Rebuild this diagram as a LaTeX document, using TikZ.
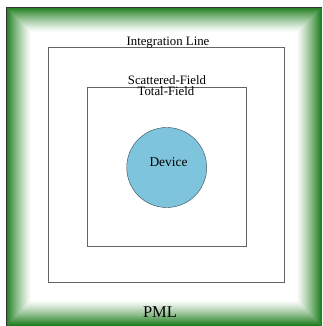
\documentclass[tikz,border=0pt]{standalone}
\usepackage{fontspec}
\setmainfont{Liberation Serif}
\definecolor{pmlgreen}{RGB}{30,125,30}
\definecolor{devblue}{RGB}{126,196,220}
\definecolor{devedge}{RGB}{55,75,90}
\definecolor{boxgray}{RGB}{100,100,100}
\tikzset{
  region/.style={draw=boxgray, line width=0.9pt},
  label/.style={inner sep=0pt, anchor=base, font=\fontsize{12.8}{15}\selectfont}
}
\begin{document}
\begin{tikzpicture}[x=1pt,y=1pt]
  \useasboundingbox (0,0) rectangle (322,326);
  % PML frame, fading inward
  \foreach \i in {0,...,25}{
    \pgfmathsetmacro\shade{100*(1-\i/25)^1.2}
    \fill[pmlgreen!\shade!white] (6+\i,0+\i) rectangle (322-\i,319-\i);
  }
  \draw[black!80, line width=0.8pt] (6,0) -- (6,319) -- (322,319);
  % integration line and total-field region
  \draw[region] (48,44) rectangle (284,279);
  \draw[region] (87,80) rectangle (246,239);
  \node[circle, draw=devedge, fill=devblue, minimum size=80pt, inner sep=0pt] (device) at (166.7,158.5) {};
  \node[label, font=\fontsize{13.4}{15}\selectfont] (devtext) at (168.5,159.5) {Device};
  \node[label] (integ) at (168,280.5) {Integration Line};
  \node[label] (scat) at (167,241.5) {Scattered-Field};
  \node[label] (total) at (166,230) {Total-Field};
  \node[label, font=\fontsize{16.5}{18}\selectfont] (pml) at (160,9) {PML};
\end{tikzpicture}
\end{document}
